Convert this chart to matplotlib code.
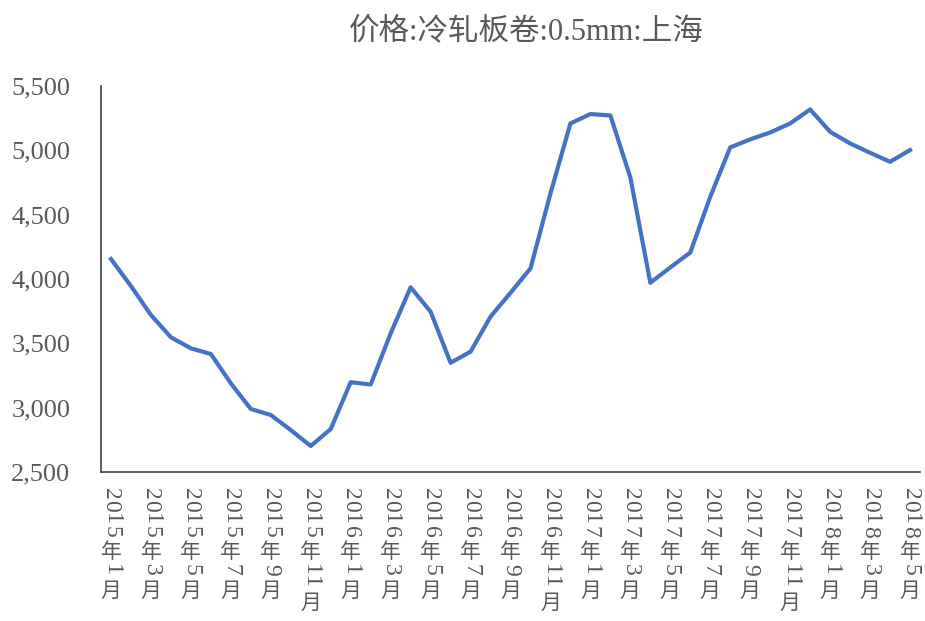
import numpy as np
import matplotlib
matplotlib.use('Agg')
import matplotlib.pyplot as plt
from matplotlib.ticker import FuncFormatter
from matplotlib.font_manager import FontProperties

# monthly price, 2015-01 .. 2018-05
months = ['2015年%d月' % m for m in range(1, 13)] + \
         ['2016年%d月' % m for m in range(1, 13)] + \
         ['2017年%d月' % m for m in range(1, 13)] + \
         ['2018年%d月' % m for m in range(1, 6)]
price = [4155, 3945, 3720, 3547, 3461, 3417, 3189, 2990, 2943, 2826,
         2702, 2834, 3198, 3180, 3577, 3935, 3746, 3349, 3435, 3707,
         3893, 4082, 4665, 5209, 5282, 5271, 4789, 3971, 4090, 4206,
         4639, 5023, 5085, 5139, 5209, 5318, 5144, 5054, 4981, 4911,
         5002]
title = '价格:冷轧板卷:0.5mm:上海'

fonts = ['Liberation Serif', 'Noto Sans CJK SC']
grey = '#595959'
plt.rcParams['font.family'] = fonts

fig = plt.figure(figsize=(9.25, 6.21), dpi=100)
ax = fig.add_axes([101/925, 1-472/621, 819/925, 386/621])

x = np.arange(len(price))
ax.plot(x, price, color='#4472C4', lw=3, solid_joinstyle='round')

ax.set_xlim(-0.5, len(price) - 0.5)
ax.set_ylim(2500, 5500)
ax.set_yticks(np.arange(2500, 5501, 500))
ax.yaxis.set_major_formatter(FuncFormatter(lambda v, p: '{:,.0f}'.format(v)))
ax.tick_params(axis='y', length=0, pad=22, labelsize=19, labelcolor=grey)
ax.set_xticks([])
for s in ['top', 'right']:
    ax.spines[s].set_visible(False)
for s in ['left', 'bottom']:
    ax.spines[s].set_color('#404040')
    ax.spines[s].set_linewidth(1.2)

fig.text(526/925, 1-32/621, title, ha='center', va='center',
         fontsize=22, color=grey)

# vertical labels, one character at a time: digits turned, CJK upright
fp_digit = FontProperties(family='Liberation Serif', size=17)
fp_cjk = FontProperties(family='Noto Sans CJK SC', size=15)
px = 72 / fig.dpi
for i in range(0, len(months), 2):
    off = 16 * px
    prev_digit = False
    for ch in months[i]:
        if ch.isdigit():
            rot, fp, step = 270, fp_digit, 12.5 * px
        else:
            rot, fp, step = 0, fp_cjk, 23 * px
            if prev_digit:
                off += 3 * px
        ax.annotate(ch, xy=(i, 0), xycoords=ax.get_xaxis_transform(),
                    xytext=(0, -off), textcoords='offset points',
                    ha='center', va='top', rotation=rot,
                    fontproperties=fp, color=grey, annotation_clip=False)
        off += step
        prev_digit = ch.isdigit()

fig.savefig('out.png', dpi=100, facecolor='white')
